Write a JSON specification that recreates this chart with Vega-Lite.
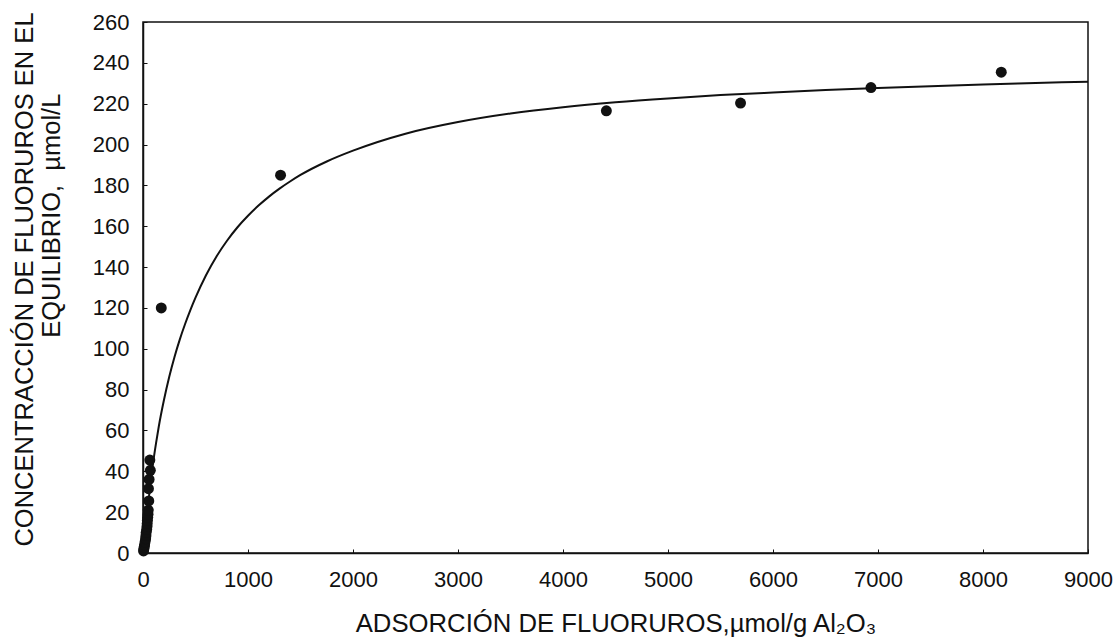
{
  "$schema": "https://vega.github.io/schema/vega-lite/v6.json",
  "width": 945,
  "height": 531,
  "autosize": {"type": "none"},
  "padding": {"left": 143, "top": 22, "right": 32, "bottom": 85},
  "background": "white",
  "config": {
    "view": {"stroke": "#111111", "strokeWidth": 1.5},
    "axis": {
      "grid": false,
      "domainColor": "#111111",
      "domainWidth": 1.5,
      "tickColor": "#111111",
      "tickWidth": 1,
      "tickSize": -4,
      "labelFont": "Liberation Sans",
      "labelFontSize": 22,
      "labelColor": "#111111",
      "titleFont": "Liberation Sans",
      "titleFontSize": 25,
      "titleFontWeight": "normal",
      "titleColor": "#111111"
    }
  },
  "datasets": {
    "puntos": [
      {"q": 5, "c": 1},
      {"q": 8, "c": 2},
      {"q": 12, "c": 3},
      {"q": 15, "c": 4},
      {"q": 20, "c": 5.5},
      {"q": 25, "c": 7},
      {"q": 28, "c": 8.5},
      {"q": 30, "c": 10},
      {"q": 35, "c": 11.5},
      {"q": 38, "c": 13},
      {"q": 40, "c": 14.5},
      {"q": 42, "c": 16},
      {"q": 45, "c": 17.5},
      {"q": 48, "c": 19},
      {"q": 50, "c": 21},
      {"q": 55, "c": 25.5},
      {"q": 52, "c": 31.5},
      {"q": 58, "c": 36},
      {"q": 70, "c": 40.5},
      {"q": 65, "c": 45.5},
      {"q": 174, "c": 120},
      {"q": 1310, "c": 185},
      {"q": 4413, "c": 216.5},
      {"q": 5691, "c": 220.3},
      {"q": 6933, "c": 227.9},
      {"q": 8174, "c": 235.4}
    ],
    "curva": [
      {"q": 0, "c": 0},
      {"q": 25, "c": 12.5},
      {"q": 50, "c": 24.5},
      {"q": 75, "c": 35.5},
      {"q": 100, "c": 45.5},
      {"q": 125, "c": 54},
      {"q": 150, "c": 61.8},
      {"q": 200, "c": 75},
      {"q": 250, "c": 86.3},
      {"q": 300, "c": 96},
      {"q": 350, "c": 104.5},
      {"q": 400, "c": 112},
      {"q": 450, "c": 118.8},
      {"q": 500, "c": 125},
      {"q": 600, "c": 136},
      {"q": 700, "c": 145.2},
      {"q": 800, "c": 152.9},
      {"q": 900, "c": 159.5},
      {"q": 1000, "c": 165.1},
      {"q": 1100, "c": 170.1},
      {"q": 1200, "c": 174.5},
      {"q": 1300, "c": 178.4},
      {"q": 1400, "c": 181.9},
      {"q": 1500, "c": 185.1},
      {"q": 1750, "c": 191.7},
      {"q": 2000, "c": 197},
      {"q": 2500, "c": 205.3},
      {"q": 3000, "c": 211},
      {"q": 3500, "c": 215.2},
      {"q": 4000, "c": 218.3},
      {"q": 4500, "c": 220.7},
      {"q": 5000, "c": 222.6},
      {"q": 5500, "c": 224.2},
      {"q": 6000, "c": 225.5},
      {"q": 6500, "c": 226.7},
      {"q": 7000, "c": 227.7},
      {"q": 7500, "c": 228.6},
      {"q": 8000, "c": 229.4},
      {"q": 8500, "c": 230.1},
      {"q": 9000, "c": 230.8}
    ]
  },
  "encoding": {
    "x": {
      "field": "q",
      "type": "quantitative",
      "scale": {"domain": [0, 9000], "nice": false, "zero": true},
      "axis": {
        "values": [0, 1000, 2000, 3000, 4000, 5000, 6000, 7000, 8000, 9000],
        "format": "d",
        "labelPadding": 20,
        "labelFlush": false,
        "labelOverlap": false,
        "title": "ADSORCIÓN DE FLUORUROS,µmol/g Al₂O₃",
        "titleFontSize": 25.7,
        "titleBaseline": "alphabetic",
        "titleY": 78
      }
    },
    "y": {
      "field": "c",
      "type": "quantitative",
      "scale": {"domain": [0, 260], "nice": false, "zero": true},
      "axis": {
        "values": [0, 20, 40, 60, 80, 100, 120, 140, 160, 180, 200, 220, 240, 260],
        "format": "d",
        "labelPadding": 18,
        "labelFlush": false,
        "labelOverlap": false,
        "title": ["CONCENTRACCIÓN DE FLUORUROS EN EL", "\u200b\u00a0\u00a0\u00a0\u00a0\u00a0\u00a0\u00a0\u00a0\u00a0\u00a0\u00a0\u00a0\u00a0\u00a0\u00a0\u00a0\u00a0\u00a0EQUILIBRIO,\u00a0\u00a0µmol/L"],
        "titleFontSize": 25.5,
        "titleAngle": 270,
        "titleAlign": "center",
        "titleBaseline": "alphabetic",
        "titleLineHeight": 27,
        "titleX": -111,
        "titleY": 257
      }
    }
  },
  "layer": [
    {
      "data": {"name": "curva"},
      "mark": {"type": "line", "color": "#111111", "strokeWidth": 2, "interpolate": "monotone", "clip": true}
    },
    {
      "data": {"name": "puntos"},
      "mark": {"type": "point", "filled": true, "color": "#111111", "opacity": 1, "size": 120, "shape": "circle"}
    }
  ]
}
